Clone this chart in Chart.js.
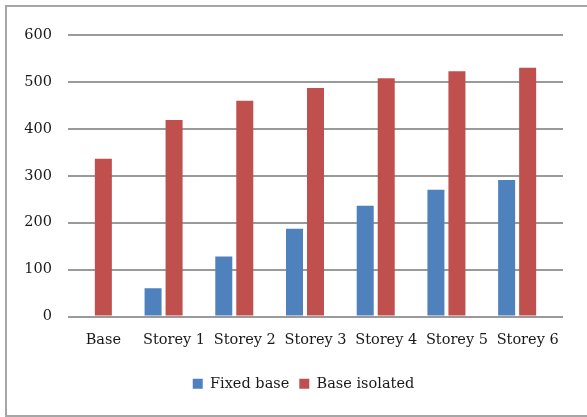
<!DOCTYPE html>
<html>
<head>
<meta charset="utf-8">
<script src="https://cdn.jsdelivr.net/npm/chart.js@4/dist/chart.umd.min.js"></script>
<style>
  html, body { margin: 0; padding: 0; background: #fff; }
  #wrap { position: relative; width: 587px; height: 417px; overflow: hidden; }
  #frame { position: absolute; left: 5px; top: 5px; width: 590px; height: 412px;
           border: 2px solid #a6a6a6; box-sizing: border-box; pointer-events: none; }
  canvas { position: absolute; left: 0; top: 0; }
</style>
</head>
<body>
<div id="wrap">
  <canvas id="c" width="587" height="417"></canvas>
  <div id="frame"></div>
</div>
<script>
const categories = ['Base', 'Storey 1', 'Storey 2', 'Storey 3', 'Storey 4', 'Storey 5', 'Storey 6'];
const fixedBase = [0, 60, 128, 187, 236, 270, 291];
const baseIsolated = [336, 419, 460, 487, 508, 523, 530];
// empty third slot in each group (no marks, not in legend)
const spacer = [null, null, null, null, null, null, null];
const yTicks = [0, 100, 200, 300, 400, 500, 600];

const FONT = "'DejaVu Serif', serif";
const FS = 14.5;
const BAR = { barPercentage: 0.81, categoryPercentage: 0.891, borderWidth: 0 };

// nudge the legend row to the right
const legendShift = {
  id: 'legendShift',
  afterLayout(chart) {
    const lg = chart.legend;
    if (lg) { lg.left += 17; lg.right += 17; }
  }
};

new Chart(document.getElementById('c'), {
  type: 'bar',
  data: {
    labels: categories,
    datasets: [
      Object.assign({ label: 'Fixed base', data: fixedBase, backgroundColor: '#4F81BD' }, BAR),
      Object.assign({ label: 'Base isolated', data: baseIsolated, backgroundColor: '#C0504D' }, BAR),
      Object.assign({ label: '', data: spacer, backgroundColor: 'rgba(0,0,0,0)' }, BAR)
    ]
  },
  plugins: [legendShift],
  options: {
    responsive: false,
    animation: false,
    layout: { padding: { left: 10, right: 24, top: 35, bottom: 16 } },
    plugins: {
      tooltip: { enabled: false },
      legend: {
        position: 'bottom',
        labels: {
          font: { family: FONT, size: FS },
          color: '#1a1a1a',
          boxWidth: 10, boxHeight: 10,
          padding: 10,
          filter: item => item.text !== ''
        }
      }
    },
    scales: {
      x: {
        grid: { display: false },
        border: { display: false },
        ticks: { font: { family: FONT, size: FS }, color: '#1a1a1a', padding: 7, maxRotation: 0 },
        afterFit: s => { s.height = 50; }
      },
      y: {
        min: 0, max: 600,
        afterBuildTicks: s => { s.ticks = yTicks.map(v => ({ value: v })); },
        grid: { color: '#9a9a9a', lineWidth: 2, drawTicks: false },
        border: { display: false },
        ticks: { font: { family: FONT, size: FS }, color: '#1a1a1a', padding: 16 },
        afterFit: s => { s.width = 58; }
      }
    }
  }
});
</script>
</body>
</html>
